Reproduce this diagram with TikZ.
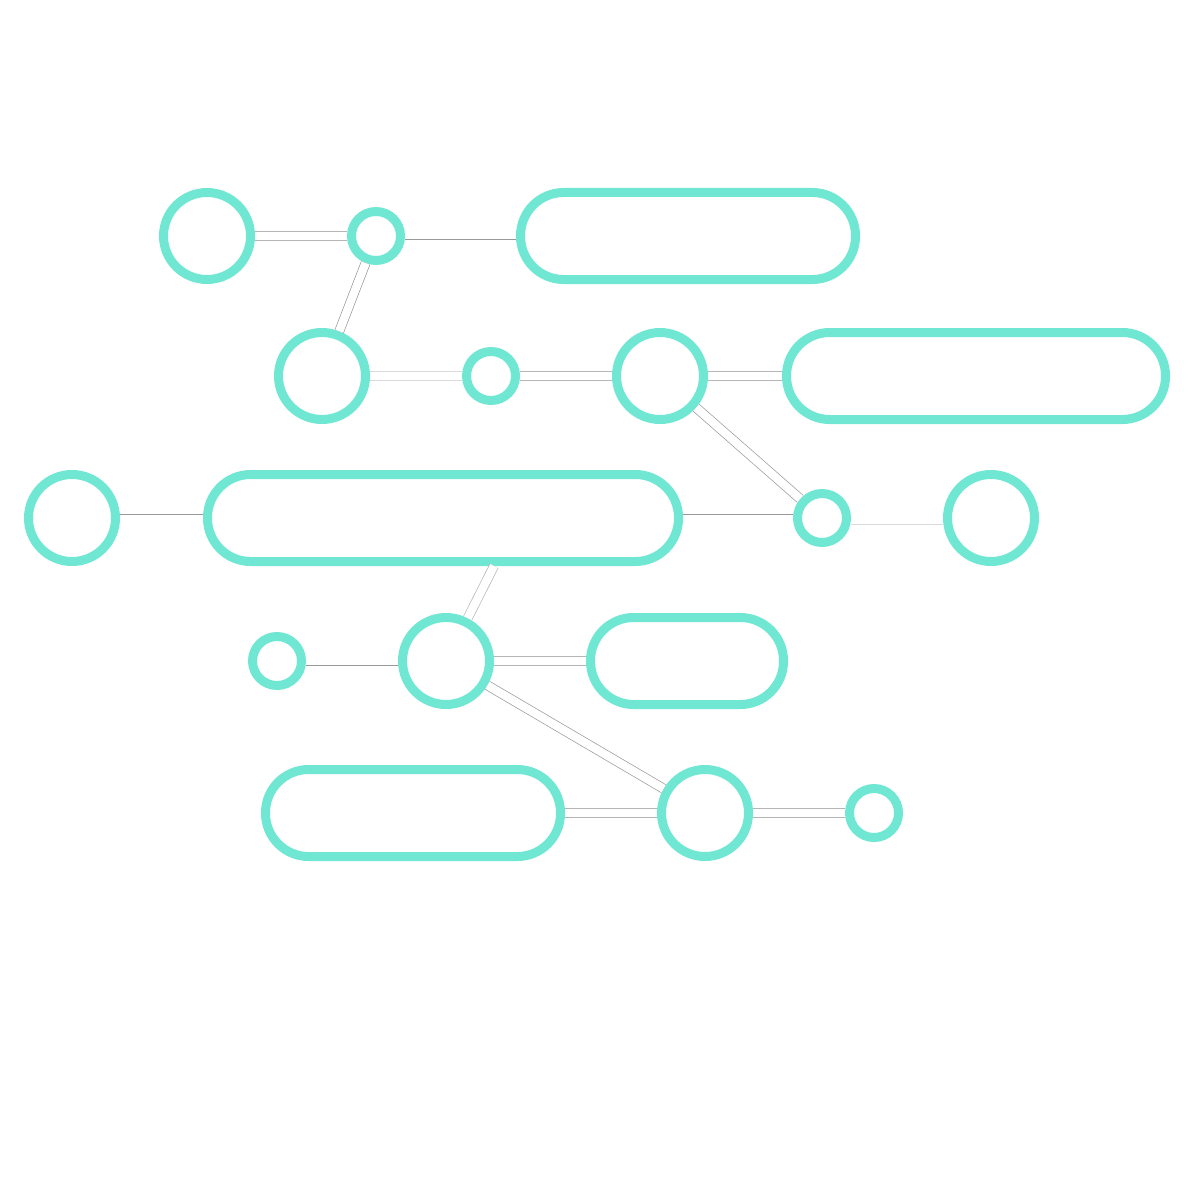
\documentclass[tikz,border=0pt]{standalone}
\usetikzlibrary{positioning}
\definecolor{cteal}{HTML}{6FE7D3}
\definecolor{cwire}{HTML}{9A9A9A}
\definecolor{clight}{HTML}{DADADA}
\definecolor{cmid}{HTML}{B5B5B5}
\tikzset{
  ring/.style={circle, draw=cteal, line width=0.225cm, inner sep=0pt, minimum size=2.175cm},
  dot/.style={circle, draw=cteal, line width=0.225cm, inner sep=0pt, minimum size=1.225cm},
  pill/.style={rectangle, rounded corners=1.08cm, draw=cteal, line width=0.225cm, inner sep=0pt, minimum height=2.175cm, minimum width=#1},
  link/.style={draw=#1, line width=0.5pt, double=white, double distance=0.21cm},
  link/.default=cmid,
  wire/.style={draw=#1, line width=0.6pt},
  wire/.default=cwire,
}

\begin{document}
\begin{tikzpicture}[node distance=2.3cm]
  \useasboundingbox (0,0) rectangle (30,-30);
  % row 1
  \node[ring] (a1) at (5.175,-5.9) {};
  \node[dot, right=of a1] (b1) {};
  \node[pill=8.375cm, right=2.775cm of b1] (c1) {};
  % row 2
  \node[ring] (a2) at (8.05,-9.4) {};
  \node[dot, right=of a2] (b2) {};
  \node[ring, right=of b2] (c2) {};
  \node[pill=9.475cm, right=1.85cm of c2] (d2) {};
  % row 3
  \node[ring] (a3) at (1.8,-12.95) {};
  \node[pill=11.775cm, right=2.075cm of a3] (b3) {};
  \node[dot, right=2.75cm of b3] (c3) {};
  \node[ring, right=of c3] (d3) {};
  % row 4
  \node[dot] (a4) at (6.925,-16.525) {};
  \node[ring, right=of a4] (b4) {};
  \node[pill=4.825cm, right=of b4] (c4) {};
  % row 5
  \node[pill=7.375cm] (a5) at (10.325,-20.325) {};
  \node[ring, right=of a5] (b5) {};
  \node[dot, right=of b5] (c5) {};

  \draw[link] (a1) -- (b1);
  \draw[wire] ([yshift=-0.075cm]b1.east) -- ([yshift=-0.075cm]c1.west);
  \draw[link=cwire] (b1) -- (a2);
  \draw[link=clight] (a2) -- (b2);
  \draw[link] (b2) -- (c2);
  \draw[link] (c2) -- (d2);
  \draw[link=cwire] (c2) -- (c3);
  \draw[wire] ([yshift=0.1cm]a3.east) -- ([yshift=0.1cm]b3.west);
  \draw[wire] ([yshift=0.1cm]b3.east) -- ([yshift=0.1cm]c3.west);
  \draw[wire=clight] ([yshift=-0.15cm]c3.east) -- ([yshift=-0.15cm]d3.west);
  \draw[link] ([xshift=1.275cm]b3.south) -- (b4);
  \draw[wire] ([yshift=-0.1cm]a4.east) -- ([yshift=-0.1cm]b4.west);
  \draw[link] (b4) -- (c4);
  \draw[link=cwire] (b4) -- (b5);
  \draw[link] (a5) -- (b5);
  \draw[link] (b5) -- (c5);
\end{tikzpicture}
\end{document}
